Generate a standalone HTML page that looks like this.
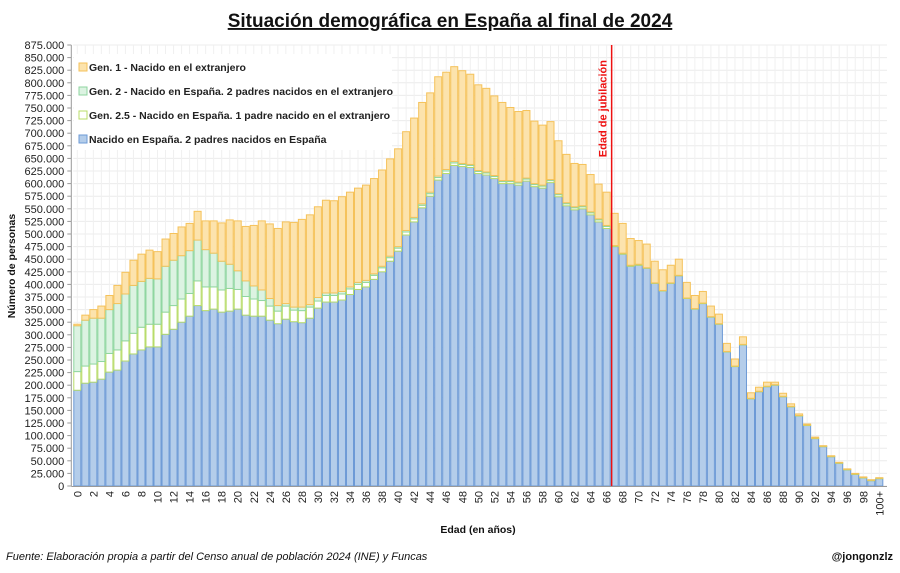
<!DOCTYPE html>
<html><head><meta charset="utf-8">
<style>
html,body{margin:0;padding:0;background:#fff;}
body{width:900px;height:568px;overflow:hidden;font-family:"Liberation Sans",sans-serif;}
svg text{font-family:"Liberation Sans",sans-serif;}
</style></head>
<body>
<svg id="chart" width="900" height="568" viewBox="0 0 900 568" xmlns="http://www.w3.org/2000/svg">
<text x="450" y="27" text-anchor="middle" font-size="19" font-weight="bold" fill="#111" text-decoration="underline">Situación demográfica en España al final de 2024</text>
<g id="grid"></g>
<g id="bars"></g>
<g id="axes"></g>
<g>
 <rect x="74" y="54" width="318" height="96" fill="#fff"/>
 <g><rect x="79" y="63" width="8" height="8" fill="#fce3ad" stroke="#f5c25a"/><text x="89" y="71" font-size="10.5" font-weight="bold" fill="#222">Gen. 1 - Nacido en el extranjero</text></g>
 <g><rect x="79" y="87" width="8" height="8" fill="#dcf3e2" stroke="#8fd6a0"/><text x="89" y="95" font-size="10.5" font-weight="bold" fill="#222">Gen. 2 - Nacido en España. 2 padres nacidos en el extranjero</text></g>
 <g><rect x="79" y="111" width="8" height="8" fill="#fff" stroke="#b8dc6a"/><text x="89" y="119" font-size="10.5" font-weight="bold" fill="#222">Gen. 2.5 - Nacido en España. 1 padre nacido en el extranjero</text></g>
 <g><rect x="79" y="135" width="8" height="8" fill="#b4cdea" stroke="#6d9ad6"/><text x="89" y="143" font-size="10.5" font-weight="bold" fill="#222">Nacido en España. 2 padres nacidos en España</text></g>
</g>
<text transform="translate(15,266) rotate(-90)" text-anchor="middle" font-size="10.5" font-weight="bold" fill="#111">Número de personas</text>
<text x="478" y="533" text-anchor="middle" font-size="10.5" font-weight="bold" fill="#111">Edad (en años)</text>
<text x="6" y="560" font-size="11" font-style="italic" fill="#111">Fuente: Elaboración propia a partir del Censo anual de población 2024 (INE) y Funcas</text>
<text x="893" y="560" text-anchor="end" font-size="11" font-weight="bold" fill="#111">@jongonzlz</text>
</svg>
<script>
const ages = Array.from({length:101},(_,i)=>i===100?'100+':String(i));
const native = [190,204,206,212,226,230,248,262,270,276,276,301,311,325,337,358,348,351,345,347,351,339,337,337,329,322,331,326,324,333,353,365,365,369,380,390,395,410,425,446,466,498,524,552,575,607,620,636,634,632,620,617,610,600,600,597,605,594,591,602,574,556,548,550,538,524,511,475,460,436,438,432,402,387,402,417,372,351,362,335,321,266,237,280,173,187,197,200,177,157,139,120,94,78,58,45,32,23,16,10.5,14.5];
const gen25 = [37,34,36,35,37,40,40,41,45,45,45,44,47,46,45,49,47,44,44,45,39,37,34,31,28,25,26,23,24,22,14,13,13,12,11,10,9,8,8,7,6,6,6,5,5,5,5,5,4,4,4,4,4,4,4,4,4,4,4,4,4,4,4,4,4,4,4,2,2,2,2,1,1,1,1,1,1,1,1,1,1,1,1,1,1,1,1,1,1,1,1,1,1,1,1,1,1,1,1,1,1];
const gen2 = [91,91,91,86,87,92,93,95,91,91,90,91,90,86,85,81,74,67,57,48,37,31,26,21,15,11,5,6,7,5,7,5,5,5,4,4,4,3,3,3,3,3,3,3,3,3,3,3,2,2,2,2,2,2,2,2,2,2,2,2,2,2,2,2,2,2,2,0,0,0,0,0,0,0,0,0,0,0,0,0,0,0,0,0,0,0,0,0,0,0,0,0,0,0,0,0,0,0,0,0,0];
const gen1 = [3,10,17,24,28,36,43,50,54,56,54,54,53,57,54,57,57,64,76,88,99,108,120,137,148,153,162,168,174,178,180,184,183,188,188,187,189,189,191,193,194,196,197,201,197,197,193,188,184,179,170,166,158,155,145,140,134,124,119,115,105,96,86,82,74,69,66,64,59,53,47,47,43,41,35,32,31,26,23,21,19,16,14,15,11,8,8,5,6,5,3,2,2,1,1,1,1,1,1,1,1];
const yTicks = Array.from({length:36},(_,i)=>i*25);
const retirementAge = 66;

const NS='http://www.w3.org/2000/svg';
const X0=73.3, BW=8.02, Y0=486, YT=45, YMAX=875;
const xs = i => X0 + i*BW;
const ys = v => Y0 - v/YMAX*(Y0-YT);
function mk(tag, attrs, parent){const e=document.createElementNS(NS,tag);for(const k in attrs)e.setAttribute(k,attrs[k]);parent.appendChild(e);return e;}
const grid=document.getElementById('grid'), bars=document.getElementById('bars'), axes=document.getElementById('axes');
yTicks.forEach(t=>{mk('line',{x1:X0,x2:887,y1:ys(t),y2:ys(t),stroke:'#ececec','stroke-width':1},grid);});
ages.forEach((a,i)=>{mk('line',{x1:xs(i)+BW/2,x2:xs(i)+BW/2,y1:YT,y2:Y0,stroke:'#f0f0f0','stroke-width':1},grid);});
const series=[[native,'#b4cdea','#6d9ad6','native'],[gen25,'#ffffff','#b8dc6a','gen25'],[gen2,'#dcf3e2','#8fd6a0','gen2'],[gen1,'#fce3ad','#f5c25a','gen1']];
ages.forEach((a,i)=>{
  let base=0;
  series.forEach(s=>{
    const v=s[0][i];
    if(v>0){
      const r=mk('rect',{x:xs(i)+0.5,y:ys(base+v),width:BW-1,height:ys(base)-ys(base+v),fill:s[1],stroke:s[2],'stroke-width':1},bars);
      
      
    }
    base+=v;
  });
});
mk('line',{x1:X0-2,x2:X0-2,y1:YT,y2:Y0,stroke:'#999'},axes);
mk('line',{x1:X0-2,x2:887,y1:Y0+0.5,y2:Y0+0.5,stroke:'#999'},axes);
yTicks.forEach(t=>{
  mk('line',{x1:X0-6,x2:X0-2,y1:ys(t),y2:ys(t),stroke:'#999'},axes);
  const tx=mk('text',{x:X0-9,y:ys(t)+4,'text-anchor':'end','font-size':'11',fill:'#222'},axes);
  tx.textContent=(t===0?'0':t+'.000');
  
  
});
ages.forEach((a,i)=>{
  if(i%2===0||i===100){
    const cx=xs(i)+BW/2;
    const tx=mk('text',{transform:`translate(${cx+4},${Y0+5}) rotate(-90)`,'text-anchor':'end','font-size':'11',fill:'#222'},axes);
    tx.textContent=a;
    
    
  }
});
const rx=xs(retirementAge+1)+1;
const rl=mk('line',{x1:rx,x2:rx,y1:YT,y2:Y0,stroke:'#ee1111','stroke-width':1.5},axes);


const rt=mk('text',{transform:`translate(${rx-5},60) rotate(-90)`,'text-anchor':'end','font-size':'11','font-weight':'bold',fill:'#ee1111'},axes);
rt.textContent='Edad de jubilación';


</script>
</body></html>
